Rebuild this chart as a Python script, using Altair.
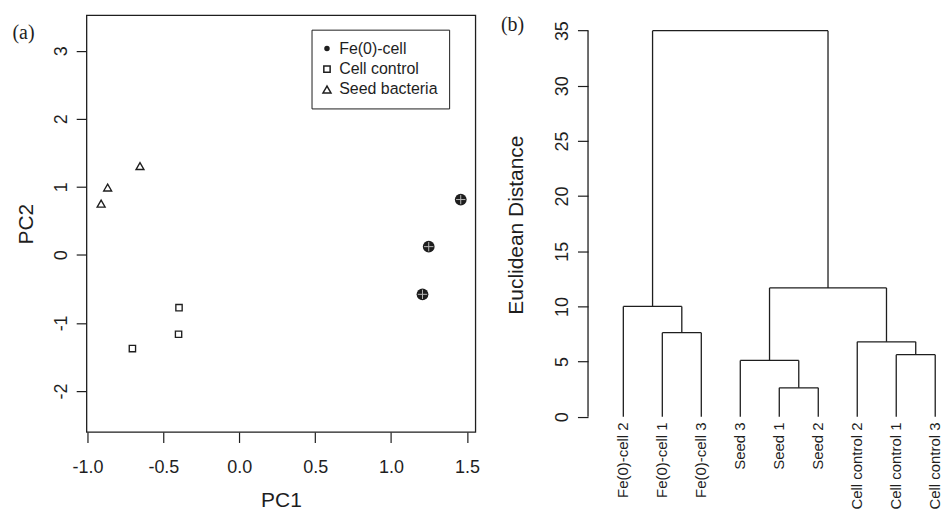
import altair as alt
import pandas as pd

# ---------------- Panel (a): PCA scores ----------------
groups = ["Fe(0)-cell", "Cell control", "Seed bacteria"]
fe_pc1 = [1.207, 1.248, 1.459]
fe_pc2 = [-0.580, 0.121, 0.813]
cc_pc1 = [-0.704, -0.400, -0.397]
cc_pc2 = [-1.378, -1.167, -0.776]
seed_pc1 = [-0.910, -0.867, -0.654]
seed_pc2 = [0.753, 0.990, 1.305]

x_ticks_a = [-1.0, -0.5, 0.0, 0.5, 1.0, 1.5]
y_ticks_a = [-2, -1, 0, 1, 2, 3]

# ---------------- Panel (b): dendrogram ----------------
leaf_labels = ["Fe(0)-cell 2", "Fe(0)-cell 1", "Fe(0)-cell 3",
               "Seed 3", "Seed 1", "Seed 2",
               "Cell control 2", "Cell control 1", "Cell control 3"]
# hclust-style merges: negative = leaf position (1-based, plot order), positive = earlier merge
merge_left = [-2, -1, -5, -4, -8, -7, 4, 2]
merge_right = [-3, 1, -6, 3, -9, 5, 6, 7]
merge_height = [7.62, 10.0, 2.62, 5.11, 5.63, 6.79, 11.68, 35.0]
y_ticks_b = [0, 5, 10, 15, 20, 25, 30, 35]

INK = "#1e1e1e"
SANS = "Liberation Sans"
SERIF = "Liberation Serif"

# small solid dot drawn with two concentric stroked rings (legend symbol for Fe(0)-cell)
DOT = "M-1,0A1,1,0,1,1,1,0A1,1,0,1,1,-1,0M-0.45,0A0.45,0.45,0,1,1,0.45,0A0.45,0.45,0,1,1,-0.45,0"

# ---- build tables ----
rows = []
for g, xs_, ys_ in [(groups[0], fe_pc1, fe_pc2), (groups[1], cc_pc1, cc_pc2), (groups[2], seed_pc1, seed_pc2)]:
    for a, b in zip(xs_, ys_):
        rows.append({"group": g, "pc1": a, "pc2": b})
pca = pd.DataFrame(rows)
fe_df = pca[pca["group"] == groups[0]]

node_x, node_h = {}, {}


def ref(r):
    if r < 0:
        return float(-r), 0.0
    return node_x[r], node_h[r]


segs = []
for i, (l, r, h) in enumerate(zip(merge_left, merge_right, merge_height), start=1):
    xl, hl = ref(l)
    xr, hr = ref(r)
    segs.append({"x": xl, "x2": xr, "y": h, "y2": h})
    segs.append({"x": xl, "x2": xl, "y": hl, "y2": h})
    segs.append({"x": xr, "x2": xr, "y": hr, "y2": h})
    node_x[i] = (xl + xr) / 2
    node_h[i] = h
seg_df = pd.DataFrame(segs)
leaf_df = pd.DataFrame({"pos": list(range(1, len(leaf_labels) + 1)), "label": leaf_labels})
axis_line_df = pd.DataFrame({"y": [min(y_ticks_b)], "y2": [max(y_ticks_b)]})

# ---------------- Panel (a) chart ----------------
W_A, H = 390, 418
xs = alt.Scale(domain=[-1.0066, 1.5552], nice=False, zero=False)
ys = alt.Scale(domain=[-2.604, 3.523], nice=False, zero=False)

x_axis_a = alt.Axis(
    values=x_ticks_a,
    labelExpr="datum.value < 0 ? '-' + format(-datum.value, '.1f') : format(datum.value, '.1f')",
    labelFont=SANS, labelFontSize=18, labelColor=INK, labelAlign="center",
    labelBaseline="alphabetic", labelPadding=30, labelFlush=False,
    tickSize=10.5, tickColor=INK, tickWidth=1.2, domain=False, grid=False,
    title="PC1", titleFont=SANS, titleFontSize=21, titleFontWeight="normal", titleColor=INK,
    titleX=W_A / 2, titleY=74.3, titleBaseline="alphabetic", titleAlign="center",
)
y_axis_a = alt.Axis(
    values=y_ticks_a,
    labelExpr="datum.value < 0 ? '-' + (-datum.value) : '' + datum.value",
    labelFont=SANS, labelFontSize=18, labelColor=INK, labelAngle=270,
    labelAlign="center", labelBaseline="alphabetic", labelPadding=9.5, labelFlush=False,
    tickSize=10.3, tickColor=INK, tickWidth=1.2, domain=False, grid=False,
    title="PC2", titleFont=SANS, titleFontSize=21, titleFontWeight="normal", titleColor=INK,
    titleAngle=270, titleX=-54.6, titleY=H / 2, titleBaseline="alphabetic", titleAlign="center",
)

legend_a = alt.Legend(
    title=None, orient="none", legendX=225.7, legendY=14.5,
    strokeColor=INK, padding=11, rowPadding=4.5, labelOffset=4.2, symbolOffset=-3.5,
    labelFont=SANS, labelFontSize=16, labelColor=INK, labelLimit=300,
    symbolStrokeColor=INK, symbolStrokeWidth=1.5, symbolFillColor="transparent",
)

# legend-carrying layer (Fe(0)-cell drawn as small dot, covered by the big marker layer)
points = alt.Chart(pca).mark_point(strokeWidth=1.35, opacity=1, color=INK, filled=False).encode(
    x=alt.X("pc1:Q", scale=xs, axis=x_axis_a),
    y=alt.Y("pc2:Q", scale=ys, axis=y_axis_a),
    shape=alt.Shape("group:N", scale=alt.Scale(domain=groups, range=[DOT, "square", "triangle-up"]),
                    legend=legend_a),
    size=alt.Size("group:N", scale=alt.Scale(domain=groups, range=[16, 64, 200]), legend=legend_a),
)

fe_big = alt.Chart(fe_df).mark_point(
    shape="circle", size=140, filled=True, color=INK, opacity=1
).encode(
    x=alt.X("pc1:Q", scale=xs, axis=x_axis_a),
    y=alt.Y("pc2:Q", scale=ys, axis=y_axis_a),
)

crosses = alt.Chart(fe_df).mark_point(
    shape="M-1,0L1,0M0,-1L0,1", size=88, filled=False, stroke="#b8b8b8", strokeWidth=1, opacity=1
).encode(
    x=alt.X("pc1:Q", scale=xs, axis=x_axis_a),
    y=alt.Y("pc2:Q", scale=ys, axis=y_axis_a),
)

tag_a = alt.Chart(pd.DataFrame({"t": ["(a)"]})).mark_text(
    font=SERIF, fontSize=20, align="left", baseline="alphabetic", color=INK
).encode(text="t:N", x=alt.value(-74.3), y=alt.value(24))

panel_a = alt.layer(points, fe_big, crosses, tag_a).properties(
    width=W_A, height=H, view=alt.ViewBackground(stroke=INK, strokeWidth=1.3, fill="white")
)

# ---------------- Panel (b) chart ----------------
W_B = 352
PX_PER_LEAF = 39.1
x0_b = 1 - 35.4 / PX_PER_LEAF
xb = alt.Scale(domain=[x0_b, x0_b + W_B / PX_PER_LEAF], nice=False, zero=False)
yb = alt.Scale(domain=[-1.383, 36.40], nice=False, zero=False)

y_axis_b = alt.Axis(
    values=y_ticks_b, labelExpr="'' + datum.value",
    labelFont=SANS, labelFontSize=18, labelColor=INK, labelAngle=270,
    labelAlign="center", labelBaseline="alphabetic", labelPadding=9.5, labelFlush=False,
    tickSize=10.6, tickColor=INK, tickWidth=1.2, domain=False, grid=False,
    title="Euclidean Distance", titleFont=SANS, titleFontSize=21, titleFontWeight="normal",
    titleColor=INK, titleAngle=270, titleX=-65.8, titleY=210, titleBaseline="alphabetic",
    titleAlign="center",
)

axis_line = alt.Chart(axis_line_df).mark_rule(color=INK, strokeWidth=1.3).encode(
    x=alt.value(0),
    y=alt.Y("y:Q", scale=yb, axis=y_axis_b),
    y2="y2:Q",
)

tree = alt.Chart(seg_df).mark_rule(color=INK, strokeWidth=1.3).encode(
    x=alt.X("x:Q", scale=xb, axis=None),
    x2="x2:Q",
    y=alt.Y("y:Q", scale=yb, axis=y_axis_b),
    y2="y2:Q",
)

leaves = alt.Chart(leaf_df).mark_text(
    angle=270, align="right", baseline="middle", font=SANS, fontSize=15, color=INK
).encode(
    x=alt.X("pos:Q", scale=xb, axis=None),
    y=alt.value(408.4),
    text="label:N",
)

tag_b = alt.Chart(pd.DataFrame({"t": ["(b)"]})).mark_text(
    font=SERIF, fontSize=20, align="left", baseline="alphabetic", color=INK
).encode(text="t:N", x=alt.value(-87.3), y=alt.value(15.6))

panel_b = alt.layer(axis_line, tree, leaves, tag_b).properties(
    width=W_B, height=H, view=alt.ViewBackground(stroke="transparent", fill="white")
)

chart = alt.hconcat(panel_a, panel_b, spacing=20).properties(
    padding={"left": 3.7, "top": 5.5, "right": 0, "bottom": 0},
    background="white",
)

chart.save("out.html", embed_options={"renderer": "svg", "actions": False})
